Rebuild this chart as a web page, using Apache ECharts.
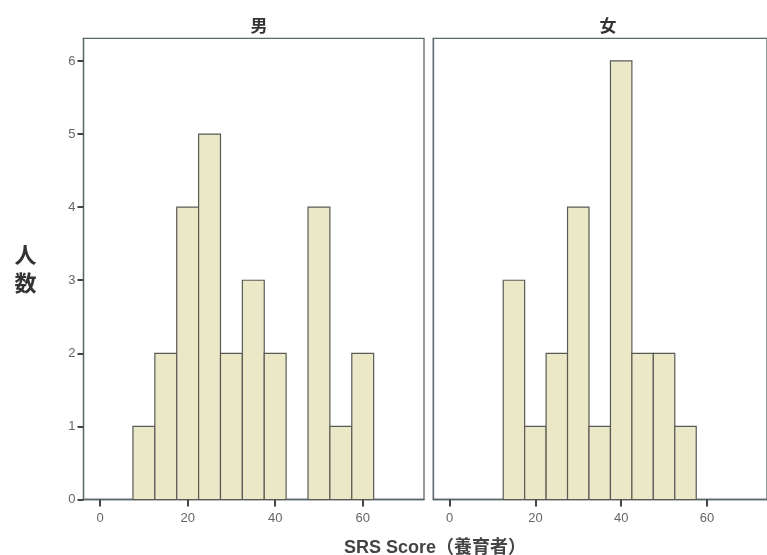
<!DOCTYPE html>
<html>
<head>
<meta charset="utf-8">
<script src="https://cdn.jsdelivr.net/npm/echarts@6/dist/echarts.min.js"></script>
<style>html,body{margin:0;padding:0;background:#fff;}#c{width:767px;height:555px;}</style>
</head>
<body>
<div id="c"></div>
<script>
// Data
const panelTitles = ['男', '女'];
const binWidth = 5;
const maleBinCenters = [10, 15, 20, 25, 30, 35, 40, 45, 50, 55, 60];
const maleCounts = [1, 2, 4, 5, 2, 3, 2, 0, 4, 1, 2];
const femaleBinCenters = [15, 20, 25, 30, 35, 40, 45, 50, 55];
const femaleCounts = [3, 1, 2, 4, 1, 6, 2, 2, 1];
const xTickValues = [0, 20, 40, 60];
const yTickValues = [0, 1, 2, 3, 4, 5, 6];
const xAxisTitle = 'SRS Score（養育者）';
const yAxisTitle = '人\n数';

const FONT = 'Liberation Sans, Arial, Noto Sans CJK JP, sans-serif';
const CJK = 'Noto Sans CJK JP, sans-serif';
const borderCol = '#5d686c';
const fillCol = '#ebe8c8';
const strokeCol = '#5a5a55';

function renderItem(params, api) {
  const c = api.value(0), v = api.value(1);
  if (!v) return null;
  const p0 = api.coord([c - binWidth / 2, v]);
  const p1 = api.coord([c + binWidth / 2, 0]);
  return {
    type: 'rect',
    shape: { x: p0[0], y: p0[1], width: p1[0] - p0[0], height: p1[1] - p0[1] },
    style: { fill: fillCol, stroke: strokeCol, lineWidth: 1.2 }
  };
}

function xAxisCfg(idx) {
  return {
    type: 'value', gridIndex: idx, min: -3.8, max: 74,
    splitLine: { show: false },
    axisLine: { show: true, onZero: false, lineStyle: { color: borderCol, width: 1.3 } },
    axisTick: { show: true, customValues: xTickValues, length: 7, lineStyle: { color: '#444', width: 2 } },
    axisLabel: { show: true, customValues: xTickValues, color: '#666', fontSize: 13, fontFamily: FONT, margin: 12 }
  };
}
function yAxisCfg(idx, showLabels) {
  return {
    type: 'value', gridIndex: idx, min: 0, max: 6.31,
    splitLine: { show: false },
    axisLine: { show: true, onZero: false, lineStyle: { color: borderCol, width: 1.3 } },
    axisTick: { show: showLabels, customValues: yTickValues, length: 6, lineStyle: { color: '#444', width: 2 } },
    axisLabel: { show: showLabels, customValues: yTickValues, color: '#666', fontSize: 13, fontFamily: FONT, margin: 8 },
    name: showLabels ? yAxisTitle : '',
    nameLocation: 'middle', nameRotate: 0, nameGap: 47,
    nameTextStyle: { fontSize: 22, fontWeight: 'bold', color: '#333', fontFamily: CJK, lineHeight: 28 }
  };
}

const chart = echarts.init(document.getElementById('c'), null, { renderer: 'canvas' });
chart.setOption({
  backgroundColor: '#fff',
  animation: false,
  title: [
    { text: panelTitles[0], left: 254, top: 12, textAlign: 'center', textStyle: { fontSize: 17, fontWeight: 'bold', color: '#333', fontFamily: CJK } },
    { text: panelTitles[1], left: 603, top: 12, textAlign: 'center', textStyle: { fontSize: 17, fontWeight: 'bold', color: '#333', fontFamily: CJK } },
    { text: xAxisTitle, left: 430, top: 534, textAlign: 'center', textStyle: { fontSize: 18, fontWeight: 'bold', color: '#444', fontFamily: FONT } }
  ],
  grid: [
    { left: 83.5, top: 38.3, width: 340.5, height: 461.2, show: true, borderColor: borderCol, borderWidth: 1.3, backgroundColor: 'transparent' },
    { left: 433.3, top: 38.3, width: 340.5, height: 461.2, show: true, borderColor: borderCol, borderWidth: 1.3, backgroundColor: 'transparent' }
  ],
  xAxis: [xAxisCfg(0), xAxisCfg(1)],
  yAxis: [yAxisCfg(0, true), yAxisCfg(1, false)],
  series: [
    { type: 'custom', xAxisIndex: 0, yAxisIndex: 0, renderItem: renderItem,
      data: maleBinCenters.map((c, i) => [c, maleCounts[i]]) },
    { type: 'custom', xAxisIndex: 1, yAxisIndex: 1, renderItem: renderItem,
      data: femaleBinCenters.map((c, i) => [c, femaleCounts[i]]) }
  ]
});
</script>
</body>
</html>
